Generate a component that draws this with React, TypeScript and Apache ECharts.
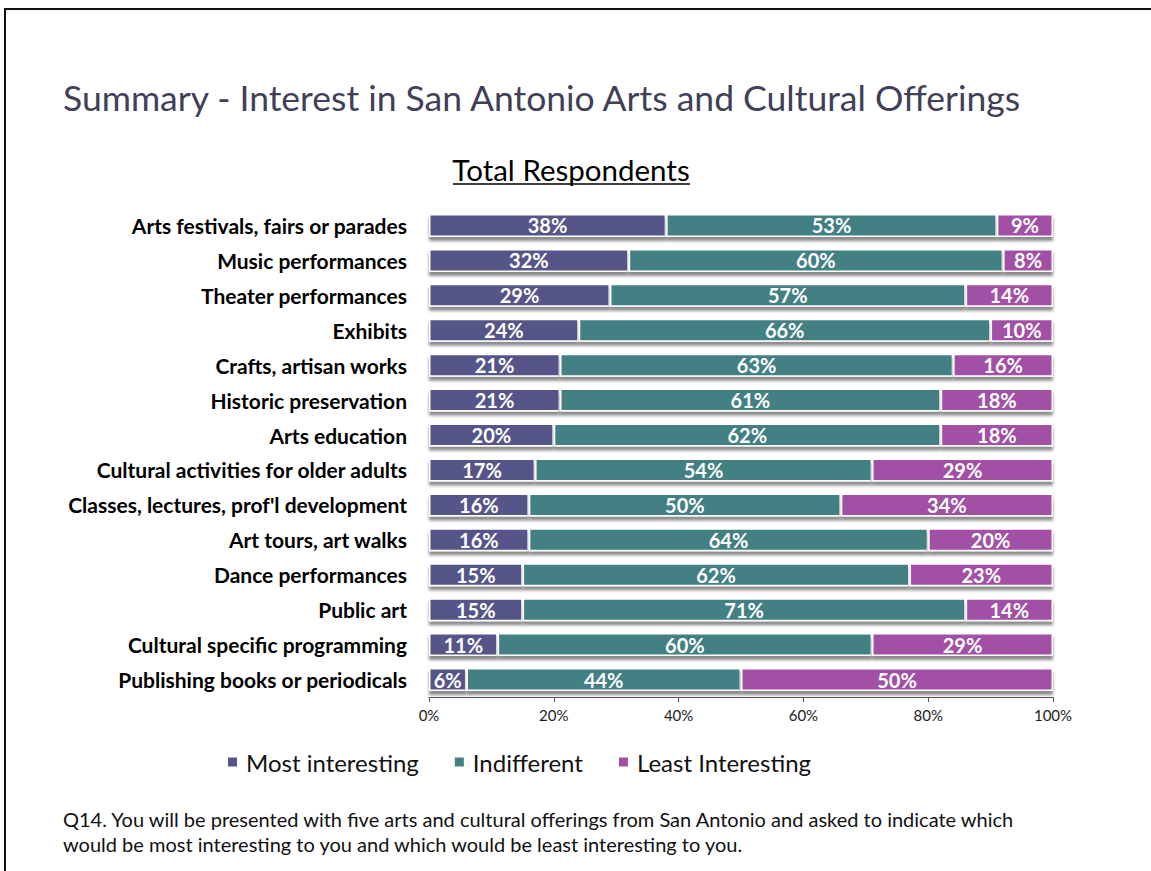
import React, { useEffect, useRef } from "react";
import * as echarts from "echarts";

const categories = [
  "Arts festivals, fairs or parades",
  "Music performances",
  "Theater performances",
  "Exhibits",
  "Crafts, artisan works",
  "Historic preservation",
  "Arts education",
  "Cultural activities for older adults",
  "Classes, lectures, prof'l development",
  "Art tours, art walks",
  "Dance performances",
  "Public art",
  "Cultural specific programming",
  "Publishing books or periodicals",
];
const mostInteresting = [38, 32, 29, 24, 21, 21, 20, 17, 16, 16, 15, 15, 11, 6];
const indifferent = [53, 60, 57, 66, 63, 61, 62, 54, 50, 64, 62, 71, 60, 44];
const leastInteresting = [9, 8, 14, 10, 16, 18, 18, 29, 34, 20, 23, 14, 29, 50];
const seriesNames = ["Most interesting", "Indifferent", "Least Interesting"];
const colors = ["#565489", "#428084", "#A250A6"];
const xTicks = [0, 20, 40, 60, 80, 100];

const FONT = "Lato";

export default function App() {
  const ref = useRef<HTMLDivElement>(null);
  useEffect(() => {
    const chart = echarts.init(ref.current!, null, { renderer: "svg" });
    const dataSets = [mostInteresting, indifferent, leastInteresting];
    chart.setOption({
      animation: false,
      textStyle: { fontFamily: FONT },
      grid: { left: 429, right: 98, top: 208, bottom: 871 - 697, containLabel: false },
      legend: {
        data: seriesNames,
        left: 221,
        top: 745,
        itemWidth: 11,
        itemHeight: 11,
        itemGap: 34,
        icon: "rect",
        textStyle: { fontSize: 24, color: "#111", fontFamily: FONT, padding: [0, 0, 0, 3] },
      },
      xAxis: {
        type: "value",
        min: 0,
        max: 100,
        interval: 20,
        splitLine: { show: false },
        axisLine: { show: true, lineStyle: { color: "#555", width: 1 } },
        axisTick: { show: true, length: 5, inside: false, lineStyle: { color: "#555" } },
        axisLabel: {
          formatter: (v: number) => (xTicks.includes(v) ? v + "%" : ""),
          fontSize: 15,
          color: "#222",
          margin: 10,
        },
      },
      yAxis: {
        type: "category",
        data: categories,
        inverse: true,
        axisLine: { show: false },
        axisTick: { show: false },
        axisLabel: { fontSize: 21, fontWeight: "bold", color: "#000", margin: 22 },
      },
      series: seriesNames.map((name, i) => ({
        name,
        type: "bar",
        stack: "total",
        barWidth: 23,
        data: dataSets[i],
        itemStyle: {
          color: colors[i],
          borderColor: "#fff",
          borderWidth: 1.5,
          shadowColor: "rgba(0,0,0,0.45)",
          shadowBlur: 3,
          shadowOffsetY: 4,
        },
        label: {
          show: true,
          position: "inside",
          formatter: "{c}%",
          color: "#fff",
          fontWeight: "bold",
          fontSize: 20,
          fontFamily: FONT,
        },
      })),
      graphic: [
        { type: "line", shape: { x1: 4, y1: 9, x2: 1151, y2: 9 }, style: { stroke: "#111", lineWidth: 2 } },
        { type: "line", shape: { x1: 5, y1: 8, x2: 5, y2: 871 }, style: { stroke: "#111", lineWidth: 2 } },
        {
          type: "text",
          left: 63,
          top: 79,
          style: { text: "Summary - Interest in San Antonio Arts and Cultural Offerings", fontSize: 35.5, fill: "#404058", fontFamily: FONT },
        },
        {
          type: "text",
          x: 571,
          y: 169,
          style: { text: "Total Respondents", fontSize: 29.5, fill: "#000", fontFamily: FONT, align: "center", verticalAlign: "middle" },
        },
        { type: "line", shape: { x1: 453, y1: 184, x2: 690, y2: 184 }, style: { stroke: "#000", lineWidth: 1.5 } },
        {
          type: "text",
          left: 63,
          top: 806,
          style: {
            text: "Q14. You will be presented with five arts and cultural offerings from San Antonio and asked to indicate which\nwould be most interesting to you and which would be least interesting to you.",
            fontSize: 20,
            lineHeight: 25,
            fill: "#111",
            fontFamily: FONT,
          },
        },
      ],
    });
    return () => chart.dispose();
  }, []);
  return (
    <div
      ref={ref}
      style={{ position: "absolute", left: 0, top: 0, width: 1151, height: 871, background: "#fff" }}
    />
  );
}
